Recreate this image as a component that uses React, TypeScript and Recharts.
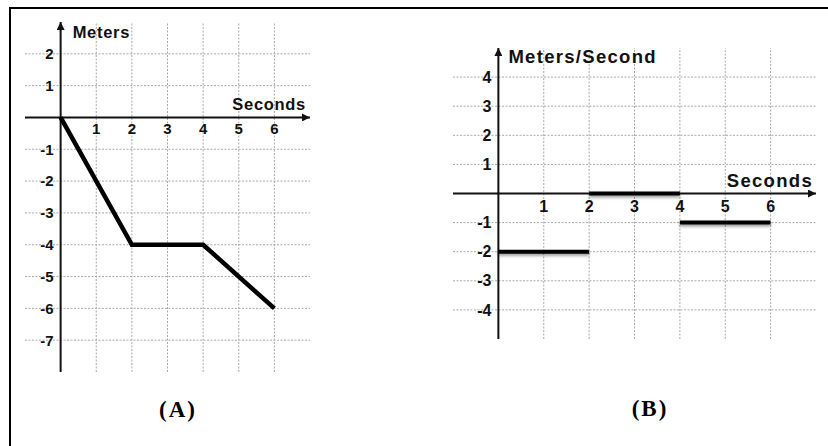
import React from "react";
import {
  LineChart,
  Line,
  XAxis,
  YAxis,
  ReferenceLine,
  ReferenceDot,
} from "recharts";

// ─── Data ───────────────────────────────────────────────────────────────────
const secondTicks = [1, 2, 3, 4, 5, 6];
const meterTicks = [-7, -6, -5, -4, -3, -2, -1, 1, 2];
const speedTicks = [-4, -3, -2, -1, 1, 2, 3, 4];

// (A) position vs time
const posSeconds = [0, 2, 4, 6];
const posMeters = [0, -4, -4, -6];

// (B) velocity vs time, one flat piece per interval
const velFrom = [0, 2, 4];
const velTo = [2, 4, 6];
const velValue = [-2, 0, -1];

const posData = posSeconds.map((t, i) => ({ t, v: posMeters[i] }));
const velPieces = velFrom.map((from, i) => [
  { t: from, v: velValue[i] },
  { t: velTo[i], v: velValue[i] },
]);

// ─── Shared styles ──────────────────────────────────────────────────────────
const SANS = "'Liberation Sans', Arial, Helvetica, sans-serif";
const GRID = "#a8a8a8";
const INK = "#111";

const css = `
  .graph text { font-family: ${SANS}; font-weight: 700; fill: ${INK}; }
  .graph .tick-a { font-size: 15px; }
  .graph .tick-b { font-size: 16px; }
  .graph .title-a { font-size: 16.5px; letter-spacing: 0.7px; }
  .graph .title-b { font-size: 18.5px; letter-spacing: 1.3px; }
  .vel-line path { filter: drop-shadow(0 2px 1.5px rgba(0,0,0,0.4)); }
`;

function Arrow({ id }: { id: string }) {
  return (
    <marker
      id={id}
      viewBox="0 0 10 10"
      refX={10}
      refY={5}
      markerWidth={8}
      markerHeight={8}
      markerUnits="userSpaceOnUse"
      orient="auto"
    >
      <path d="M0,0 L10,5 L0,10 z" fill={INK} />
    </marker>
  );
}

// dotted grid + arrowed axes + tick labels, all placed through the chart scales
function gridAndAxes(
  xTicks: number[],
  yTicks: number[],
  xDomain: [number, number],
  yDomain: [number, number],
  arrowId: string,
  tickClass: string,
  xOffset: number,
  yOffset: number,
) {
  return [
    ...xTicks.map((t) => (
      <ReferenceLine key={`gx${t}`} x={t} stroke={GRID} strokeDasharray="2 1.5" />
    )),
    ...yTicks.map((v) => (
      <ReferenceLine key={`gy${v}`} y={v} stroke={GRID} strokeDasharray="2 1.5" />
    )),
    <ReferenceLine
      key="ax"
      segment={[{ x: xDomain[0], y: 0 }, { x: xDomain[1], y: 0 }]}
      stroke={INK}
      strokeWidth={2}
      markerEnd={`url(#${arrowId})`}
      ifOverflow="visible"
    />,
    <ReferenceLine
      key="ay"
      segment={[{ x: 0, y: yDomain[0] }, { x: 0, y: yDomain[1] }]}
      stroke={INK}
      strokeWidth={2}
      markerEnd={`url(#${arrowId})`}
      ifOverflow="visible"
    />,
    ...xTicks.map((t) => (
      <ReferenceDot
        key={`lx${t}`}
        x={t}
        y={0}
        r={0}
        stroke="none"
        fill="none"
        label={{ value: String(t), position: "bottom", offset: xOffset, className: tickClass }}
      />
    )),
    ...yTicks.map((v) => (
      <ReferenceDot
        key={`ly${v}`}
        x={0}
        y={v}
        r={0}
        stroke="none"
        fill="none"
        label={{ value: String(v), position: "left", offset: yOffset, className: tickClass }}
      />
    )),
  ];
}

function titleLabel(value: string, position: "left" | "right", offset: number, cls: string) {
  return { value, position, offset, className: cls };
}

// ─── (A) Meters vs Seconds ──────────────────────────────────────────────────
function PositionChart() {
  return (
    <LineChart
      className="graph"
      width={330}
      height={400}
      margin={{ top: 22, left: 25, right: 20, bottom: 28 }}
    >
      <defs>
        <Arrow id="arrowA" />
      </defs>
      <XAxis type="number" dataKey="t" domain={[-1, 7]} hide />
      <YAxis type="number" domain={[-8, 3]} hide />
      {gridAndAxes(secondTicks, meterTicks, [-1, 7], [-8, 3], "arrowA", "tick-a", 6, 7)}
      <ReferenceDot x={0} y={2.69} r={0} stroke="none" fill="none"
        label={titleLabel("Meters", "right", 12, "title-a")} />
      <ReferenceDot x={7} y={0.42} r={0} stroke="none" fill="none"
        label={titleLabel("Seconds", "left", 4, "title-a")} />
      <Line
        data={posData}
        dataKey="v"
        type="linear"
        stroke="#000"
        strokeWidth={4.5}
        dot={false}
        isAnimationActive={false}
      />
    </LineChart>
  );
}

// ─── (B) Meters/Second vs Seconds ───────────────────────────────────────────
function VelocityChart() {
  return (
    <LineChart
      className="graph"
      width={388}
      height={400}
      margin={{ top: 48, left: 13, right: 12, bottom: 61 }}
    >
      <defs>
        <Arrow id="arrowB" />
      </defs>
      <XAxis type="number" dataKey="t" domain={[-1, 7]} hide />
      <YAxis type="number" domain={[-5, 5]} hide />
      {gridAndAxes(secondTicks, speedTicks, [-1, 7], [-5, 5], "arrowB", "tick-b", 7, 7)}
      <ReferenceDot x={0} y={4.7} r={0} stroke="none" fill="none"
        label={titleLabel("Meters/Second", "right", 10, "title-b")} />
      <ReferenceDot x={7} y={0.46} r={0} stroke="none" fill="none"
        label={titleLabel("Seconds", "left", 3, "title-b")} />
      {velPieces.map((piece, i) => (
        <Line
          key={i}
          className="vel-line"
          data={piece}
          dataKey="v"
          type="linear"
          stroke="#000"
          strokeWidth={4}
          dot={false}
          isAnimationActive={false}
        />
      ))}
    </LineChart>
  );
}

const caption: React.CSSProperties = {
  position: "absolute",
  width: 80,
  textAlign: "center",
  fontFamily: "'Liberation Serif', 'Times New Roman', serif",
  fontWeight: 700,
  fontSize: 23,
  letterSpacing: 2,
  lineHeight: "24px",
};

export default function App() {
  return (
    <div
      style={{
        position: "absolute",
        left: 0,
        top: 0,
        width: 828,
        height: 446,
        background: "#fff",
        overflow: "hidden",
      }}
    >
      <style>{css}</style>
      <div
        style={{
          position: "absolute",
          left: 9,
          top: 7,
          width: 830,
          height: 450,
          borderTop: "2px solid #000",
          borderLeft: "2px solid #000",
        }}
      />
      <div style={{ position: "absolute", left: 0, top: 0 }}>
        <PositionChart />
      </div>
      <div style={{ position: "absolute", left: 440, top: 0 }}>
        <VelocityChart />
      </div>
      <div style={{ ...caption, left: 138, top: 398 }}>(A)</div>
      <div style={{ ...caption, left: 610, top: 397 }}>(B)</div>
    </div>
  );
}
